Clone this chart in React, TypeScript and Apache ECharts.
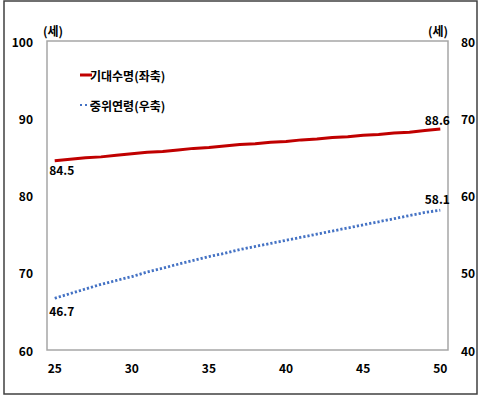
import React, { useEffect, useRef } from "react";
import * as echarts from "echarts";

// Years on the horizontal axis (25 … 50)
const years: string[] = [
  "25", "26", "27", "28", "29", "30", "31", "32", "33", "34", "35", "36", "37",
  "38", "39", "40", "41", "42", "43", "44", "45", "46", "47", "48", "49", "50",
];

// 기대수명 (left axis)
const lifeExpectancy: number[] = [
  84.5, 84.7, 84.9, 85.0, 85.2, 85.4, 85.6, 85.7, 85.9, 86.1, 86.2, 86.4, 86.6,
  86.7, 86.9, 87.0, 87.2, 87.3, 87.5, 87.6, 87.8, 87.9, 88.1, 88.2, 88.4, 88.6,
];

// 중위연령 (right axis)
const medianAge: number[] = [
  46.7, 47.3, 47.9, 48.5, 49.0, 49.5, 50.1, 50.6, 51.1, 51.6, 52.1, 52.5, 53.0,
  53.4, 53.8, 54.2, 54.6, 55.0, 55.4, 55.8, 56.2, 56.6, 57.0, 57.4, 57.8, 58.1,
];

const seriesNames = ["기대수명(좌축)", "중위연령(우축)"];
const unitLabel = "(세)";

const FONT = "'Noto Sans CJK KR', 'Noto Sans', sans-serif";

export default function App() {
  const ref = useRef<HTMLDivElement>(null);

  useEffect(() => {
    if (!ref.current) return;
    const chart = echarts.init(ref.current, null, { renderer: "svg" });

    const last = years.length - 1;
    const labelStyle = { fontFamily: FONT, fontSize: 12, color: "#000", fontWeight: "bold" as const };

    // only the first and last points carry a value label
    const withEndLabels = (values: number[], firstOffset: number[], lastOffset: number[]) =>
      values.map((v, i) => {
        if (i === 0) {
          return { value: v, label: { show: true, position: "bottom", offset: firstOffset, ...labelStyle } };
        }
        if (i === last) {
          return { value: v, label: { show: true, position: "top", offset: lastOffset, ...labelStyle } };
        }
        return v;
      });

    const lifeData = withEndLabels(lifeExpectancy, [7, -2], [-3, 1]);
    const medianData = withEndLabels(medianAge, [7, 1], [-3, -1]);

    const axisLabel = { fontFamily: FONT, fontSize: 12, color: "#000", fontWeight: "bold" as const };

    chart.setOption({
      animation: false,
      backgroundColor: "#fff",
      textStyle: { fontFamily: FONT },
      grid: {
        left: 47,
        right: 33,
        top: 41,
        bottom: 46,
        show: true,
        borderColor: "#a6a6a6",
        borderWidth: 1.5,
      },
      legend: {
        orient: "vertical",
        left: 75,
        top: 64,
        itemGap: 18,
        itemWidth: 12,
        itemHeight: 3,
        textStyle: {
          fontFamily: FONT,
          fontSize: 12,
          color: "#000",
          fontWeight: "bold",
          padding: [0, 0, 0, -7],
        },
        data: [
          { name: seriesNames[0], icon: "rect", itemStyle: { color: "#c00000" } },
          {
            name: seriesNames[1],
            icon: "path://M0,0h2v2h-2z M5,0h2v2h-2z M10,0h2v2h-2z",
            itemStyle: { color: "#4472c4" },
          },
        ],
      },
      xAxis: {
        type: "category",
        data: years,
        boundaryGap: true,
        axisLine: { show: false },
        axisTick: { show: false },
        axisLabel: { ...axisLabel, interval: 4, margin: 11 },
        splitLine: { show: false },
      },
      yAxis: [
        {
          type: "value",
          min: 60,
          max: 100,
          interval: 10,
          axisLine: { show: false },
          axisTick: { show: false },
          splitLine: { show: false },
          axisLabel: { ...axisLabel, margin: 14 },
        },
        {
          type: "value",
          min: 40,
          max: 80,
          interval: 10,
          position: "right",
          axisLine: { show: false },
          axisTick: { show: false },
          splitLine: { show: false },
          axisLabel: { ...axisLabel, margin: 13 },
        },
      ],
      series: [
        {
          name: seriesNames[0],
          type: "line",
          yAxisIndex: 0,
          data: lifeData,
          symbol: "circle",
          symbolSize: 0.01,
          lineStyle: { color: "#c00000", width: 3 },
          itemStyle: { color: "#c00000" },
        },
        {
          name: seriesNames[1],
          type: "line",
          yAxisIndex: 1,
          data: medianData,
          symbol: "circle",
          symbolSize: 0.01,
          lineStyle: { color: "#4472c4", width: 2.8, type: [2.2, 2] },
          itemStyle: { color: "#4472c4" },
        },
      ],
      graphic: [
        {
          type: "rect",
          shape: { x: 4, y: 1, width: 473, height: 393 },
          style: { fill: "none", stroke: "#404040", lineWidth: 1.5 },
          z: 100,
        },
        {
          type: "text",
          x: 43,
          y: 24,
          style: { text: unitLabel, fontFamily: FONT, fontSize: 12, fill: "#000", fontWeight: "bold" },
        },
        {
          type: "text",
          x: 428,
          y: 24,
          style: { text: unitLabel, fontFamily: FONT, fontSize: 12, fill: "#000", fontWeight: "bold" },
        },
      ],
    });

    return () => chart.dispose();
  }, []);

  return (
    <div
      ref={ref}
      style={{ position: "fixed", left: 0, top: 0, width: 481, height: 396 }}
    />
  );
}
